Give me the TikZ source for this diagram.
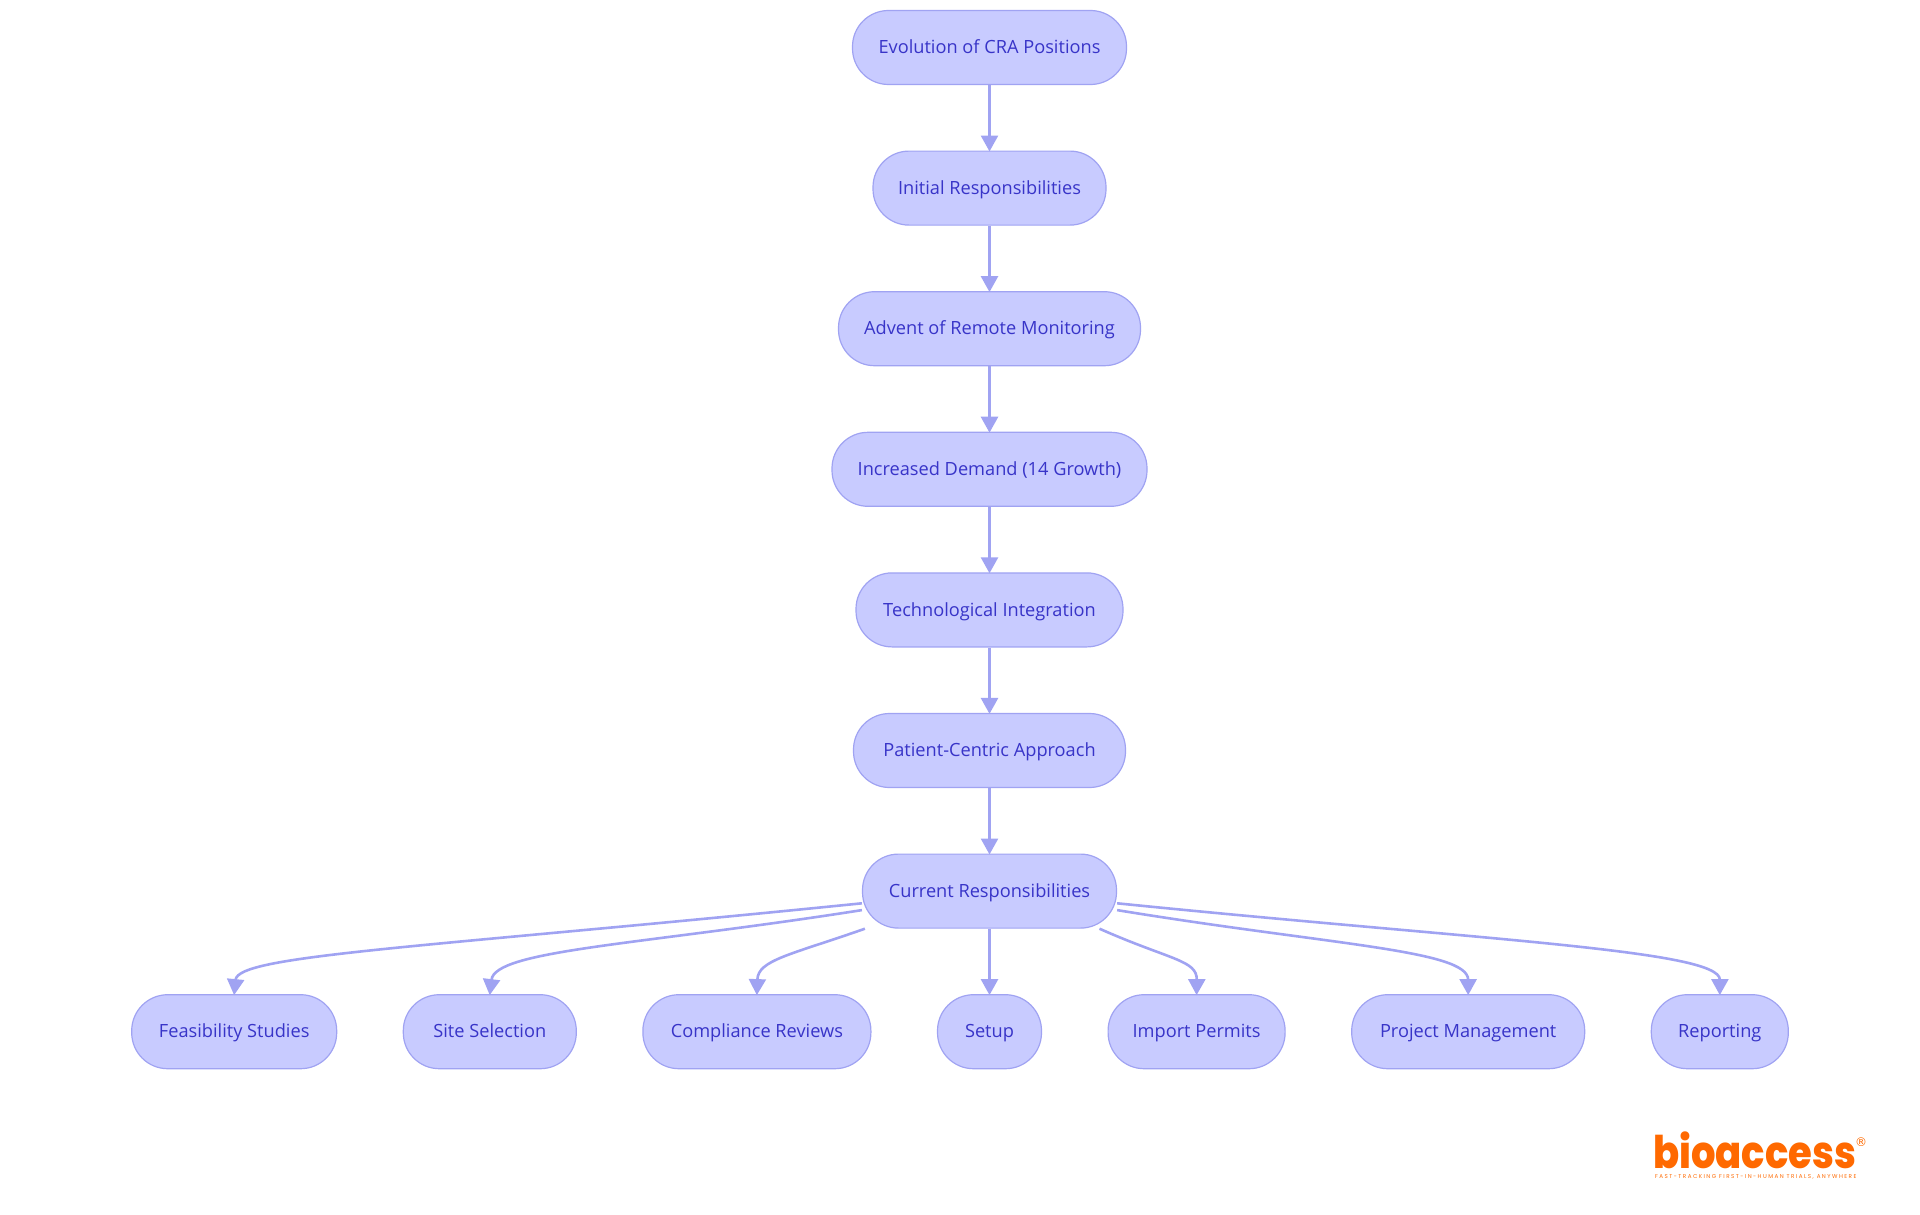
\documentclass[tikz,border=0pt]{standalone}
\usepackage{fontspec}
\setmainfont{Open Sans}
\newfontfamily\logofont{Poppins}[BoldFont=* ExtraBold]
\newfontfamily\markfont{DejaVu Sans}
\usetikzlibrary{positioning, arrows.meta}
\definecolor{stagefill}{RGB}{200,203,255}
\definecolor{stageline}{RGB}{160,163,242}
\definecolor{stagetext}{RGB}{56,52,200}
\definecolor{logocolor}{RGB}{255,105,0}
\tikzset{
	stage/.style={draw=stageline,fill=stagefill,text=stagetext,line width=1.2pt,rounded corners=36pt,minimum height=74pt,inner sep=0pt,text height=15.2pt,text depth=2.8pt,font=\fontsize{18.2}{22}\selectfont},
	link/.style={draw=stageline,line width=2.6pt,shorten >=-1pt,-{Triangle[length=16pt,width=17pt]}}
}
\begin{document}
\begin{tikzpicture}[x=1pt,y=-1pt]
		\useasboundingbox (0,0) rectangle (1920,1215);
		\node [stage,minimum width=274pt] (evolution) at (989.5,47.5) {Evolution of CRA Positions};
		\node [stage,minimum width=233pt,below=65.4pt of evolution] (initial) {Initial Responsibilities};
		\node [stage,minimum width=302pt,below=65.4pt of initial] (advent) {Advent of Remote Monitoring};
		\node [stage,minimum width=315pt,below=65.4pt of advent] (demand) {Increased Demand (14 Growth)};
		\node [stage,minimum width=267pt,below=65.4pt of demand] (techno) {Technological Integration};
		\node [stage,minimum width=272pt,below=65.4pt of techno] (patient) {Patient-Centric Approach};
		\node [stage,minimum width=254pt,below=65.4pt of patient] (current) {Current Responsibilities};
		% bottom row
		\node [stage,minimum width=104pt,below=65.4pt of current] (setup) {Setup};
		\node [stage,minimum width=228pt,left=65.4pt of setup] (compliance) {Compliance Reviews};
		\node [stage,minimum width=173pt,left=65.4pt of compliance] (site) {Site Selection};
		\node [stage,minimum width=205pt,left=65.4pt of site] (feasibility) {Feasibility Studies};
		\node [stage,minimum width=177pt,right=65.4pt of setup] (permits) {Import Permits};
		\node [stage,minimum width=233pt,right=65.4pt of permits] (project) {Project Management};
		\node [stage,minimum width=137pt,right=65.4pt of project] (reporting) {Reporting};
		% logo
		\node [anchor=south west,inner sep=0pt,text=logocolor,yscale=1.17,transform shape,font=\logofont\bfseries\fontsize{38.5}{38.5}\selectfont] (logo) at (1653,1169) {bioaccess};
		\node [inner sep=0pt,text=logocolor,font=\markfont\fontsize{12}{12}\selectfont] (logomark) at (1861,1142) {®};
		\node [anchor=west,inner sep=0pt,text=logocolor,font=\logofont\fontsize{5.6}{6}\selectfont] (tagline) at (1655,1177) {\addfontfeature{LetterSpace=26}FAST-TRACKING FIRST-IN-HUMAN TRIALS, ANYWHERE};
		% chain
		\draw [link] (evolution) -- (initial);
		\draw [link] (initial) -- (advent);
		\draw [link] (advent) -- (demand);
		\draw [link] (demand) -- (techno);
		\draw [link] (techno) -- (patient);
		\draw [link] (patient) -- (current);
		\draw [link] (current) -- (setup);
		% fan out
		\draw [link] ([yshift=-12.2pt]current.west) .. controls (420,948) and (238,955) .. (feasibility.north);
		\draw [link] ([yshift=-19pt]current.west) .. controls (640,945) and (495,950) .. (site.north);
		\draw [link] ([xshift=3pt]current.south west) .. controls (790,955) and (758,960) .. (compliance.north);
		\draw [link] ([xshift=-17.6pt]current.south east) .. controls (1170,960) and (1197,960) .. (permits.north);
		\draw [link] ([yshift=-19pt]current.east) .. controls (1330,945) and (1468,950) .. (project.north);
		\draw [link] ([yshift=-12.2pt]current.east) .. controls (1480,940) and (1720,950) .. (reporting.north);
	\end{tikzpicture}
\end{document}
